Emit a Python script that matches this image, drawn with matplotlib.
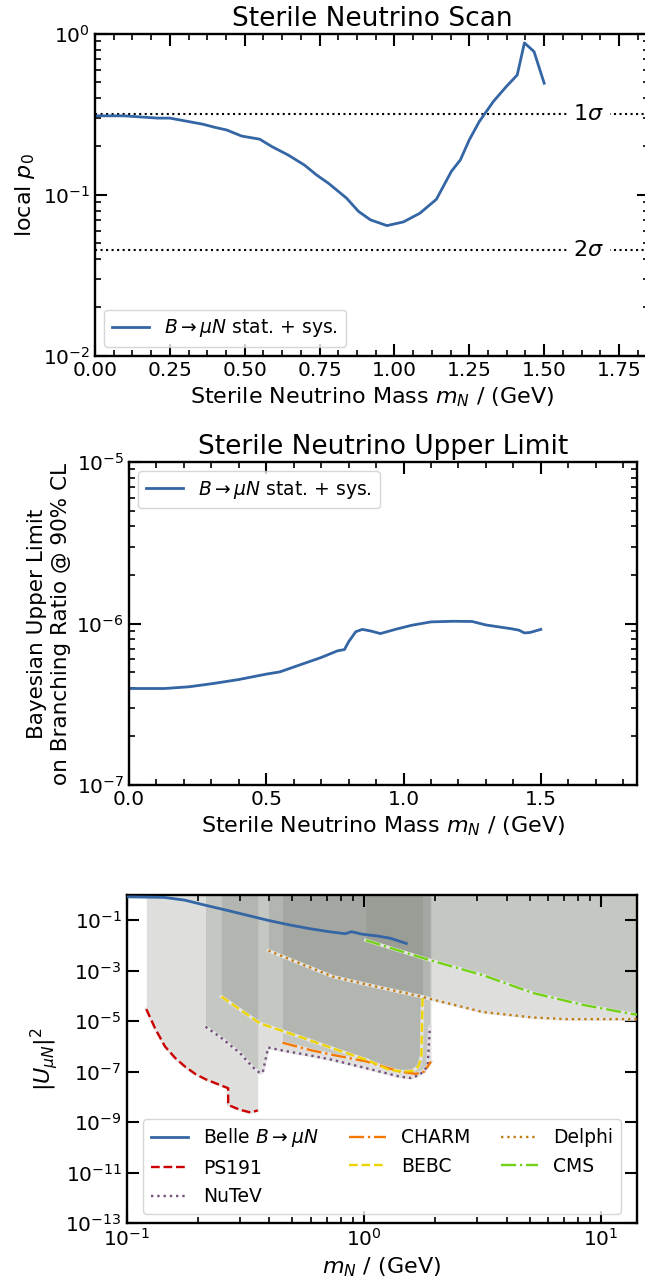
import numpy as np
import matplotlib
matplotlib.use("Agg")
import matplotlib.pyplot as plt
from matplotlib.ticker import (AutoMinorLocator, MultipleLocator, FixedLocator,
                               NullLocator, LogLocator, LogFormatterSciNotation)

# ---------------- data ----------------
# Panel 1: local p0 scan
scan_mass = [0.0, 0.096, 0.21, 0.25, 0.315, 0.36, 0.40, 0.44, 0.49, 0.55, 0.59, 0.645,
             0.70, 0.74, 0.78, 0.84, 0.88, 0.92, 0.975, 1.03, 1.085, 1.14, 1.19, 1.22,
             1.25, 1.283, 1.33, 1.373, 1.41, 1.434, 1.466, 1.50]
scan_p0 = [0.31, 0.31, 0.30, 0.30, 0.285, 0.275, 0.263, 0.253, 0.232, 0.222, 0.20, 0.177,
           0.153, 0.133, 0.118, 0.0955, 0.079, 0.070, 0.0645, 0.068, 0.077, 0.094, 0.14, 0.165,
           0.22, 0.285, 0.38, 0.47, 0.556, 0.88, 0.777, 0.494]
sigma_levels = [0.3173, 0.0455]
sigma_labels = [r"$1\sigma$", r"$2\sigma$"]

# Panel 2: Bayesian upper limit
ul_mass = [0.0, 0.13, 0.22, 0.31, 0.40, 0.50, 0.55, 0.61, 0.70, 0.76, 0.785, 0.80, 0.826,
           0.85, 0.88, 0.916, 0.97, 1.03, 1.10, 1.18, 1.25, 1.30, 1.39, 1.42, 1.44, 1.46, 1.50]
ul_br = [3.96e-7, 3.96e-7, 4.06e-7, 4.26e-7, 4.5e-7, 4.86e-7, 5.02e-7, 5.45e-7, 6.16e-7,
         6.78e-7, 6.9e-7, 7.7e-7, 8.9e-7, 9.2e-7, 9.0e-7, 8.67e-7, 9.2e-7, 9.76e-7, 1.024e-6,
         1.033e-6, 1.03e-6, 9.8e-7, 9.3e-7, 9.1e-7, 8.75e-7, 8.8e-7, 9.2e-7]

# Panel 3: |U_muN|^2 limits
belle_m = [0.1, 0.144, 0.176, 0.215, 0.263, 0.321, 0.392, 0.478, 0.584, 0.713, 0.836, 0.887,
           0.98, 1.15, 1.30, 1.51]
belle_u2 = [0.84, 0.80, 0.62, 0.39, 0.25, 0.158, 0.10, 0.067, 0.047, 0.035, 0.029, 0.035,
            0.028, 0.0234, 0.019, 0.012]
ps191_m = [0.121, 0.132, 0.145, 0.16, 0.176, 0.195, 0.215, 0.24, 0.268, 0.268, 0.29, 0.308,
           0.333, 0.357]
ps191_u2 = [3e-5, 5e-6, 1e-6, 3.5e-7, 1.6e-7, 8e-8, 5e-8, 3.3e-8, 2.2e-8, 4.8e-9, 3.5e-9,
            2.9e-9, 2.4e-9, 2.9e-9]
nutev_m = [0.215, 0.25, 0.30, 0.34, 0.365, 0.375, 0.385, 0.395, 0.457, 0.60, 0.74, 1.03,
           1.42, 1.58, 1.72, 1.86, 1.9]
nutev_u2 = [6e-6, 2.2e-6, 5.5e-7, 1.5e-7, 8.7e-8, 9.5e-8, 3e-7, 9e-7, 6.8e-7, 4.3e-7, 2.9e-7,
            1.35e-7, 6.3e-8, 5.6e-8, 7.4e-8, 1.6e-7, 6e-6]
charm_m = [0.454, 0.60, 0.74, 1.03, 1.42, 1.66, 1.80, 1.92]
charm_u2 = [1.4e-6, 7.0e-7, 4.6e-7, 2.5e-7, 1.0e-7, 8.1e-8, 1.0e-7, 2.5e-7]
bebc_m = [0.251, 0.365, 0.537, 0.74, 1.03, 1.28, 1.46, 1.60, 1.70, 1.75, 1.77]
bebc_u2 = [9.3e-5, 8.1e-6, 2.4e-6, 8.3e-7, 2.9e-7, 1.17e-7, 1.0e-7, 1.05e-7, 1.6e-7, 4e-7, 9.3e-5]
delphi_m = [0.396, 0.74, 1.00, 1.75, 3.18, 5.17, 7.13, 10.0, 14.5]
delphi_u2 = [6.2e-3, 5.8e-4, 3.0e-4, 9.3e-5, 2.3e-5, 1.4e-5, 1.2e-5, 1.2e-5, 1.2e-5]
cms_m = [1.02, 1.9, 3.18, 5.17, 8.4, 13.6, 14.5]
cms_u2 = [1.6e-2, 2.6e-3, 6.6e-4, 1.3e-4, 4.4e-5, 1.9e-5, 1.8e-5]

# ---------------- style ----------------
BLUE = "#3465a4"
plt.rcParams.update({
    "font.family": "DejaVu Sans",
    "axes.linewidth": 1.7,
    "xtick.direction": "in", "ytick.direction": "in",
    "xtick.top": True, "ytick.right": True,
    "xtick.major.size": 8.5, "ytick.major.size": 8.5,
    "xtick.minor.size": 4.5, "ytick.minor.size": 4.5,
    "xtick.major.width": 1.5, "ytick.major.width": 1.5,
    "xtick.minor.width": 1.2, "ytick.minor.width": 1.2,
    "xtick.labelsize": 14.5, "ytick.labelsize": 14.5,
    "axes.labelsize": 16, "axes.titlesize": 19,
    "legend.fontsize": 13.5,
})

fig = plt.figure(figsize=(6.45, 12.8), dpi=100)

# ---------------- panel 1 ----------------
ax1 = fig.add_axes([0.1473, 0.7219, 0.8589, 0.2516])
ax1.plot(scan_mass, scan_p0, color=BLUE, lw=2, label=r"$B \to \mu N$ stat. + sys.")
for lev, lab in zip(sigma_levels, sigma_labels):
    ax1.axhline(lev, color="black", ls=":", lw=1.5, zorder=1)
    ax1.text(1.649, lev, lab, fontsize=16, ha="center", va="center", zorder=3,
             bbox=dict(facecolor="white", edgecolor="none", pad=4))
ax1.set_yscale("log")
ax1.set_ylim(1e-2, 1)
ax1.set_xlim(0, 1.85)
ax1.xaxis.set_major_locator(MultipleLocator(0.25))
ax1.xaxis.set_minor_locator(AutoMinorLocator(4))
ax1.set_title("Sterile Neutrino Scan")
ax1.set_xlabel(r"Sterile Neutrino Mass $m_N$ / (GeV)")
ax1.set_ylabel(r"local $p_0$")
ax1.legend(loc="lower left")
ax1.tick_params(which="both", top=True, right=True)

# ---------------- panel 2 ----------------
ax2 = fig.add_axes([0.1997, 0.3867, 0.7879, 0.2523])
ax2.plot(ul_mass, ul_br, color=BLUE, lw=2, label=r"$B \to \mu N$ stat. + sys.")
ax2.set_yscale("log")
ax2.set_ylim(1e-7, 1e-5)
ax2.set_xlim(0, 1.85)
ax2.xaxis.set_major_locator(MultipleLocator(0.5))
ax2.xaxis.set_minor_locator(AutoMinorLocator(5))
ax2.set_title("Sterile Neutrino Upper Limit")
ax2.set_xlabel(r"Sterile Neutrino Mass $m_N$ / (GeV)")
ax2.set_ylabel("Bayesian Upper Limit\non Branching Ratio @ 90% CL", fontsize=15.5)
ax2.legend(loc="upper left")
ax2.tick_params(which="both", top=True, right=True)

# ---------------- panel 3 ----------------
ax3 = fig.add_axes([0.1964, 0.04453, 0.7912, 0.2563])
FILL = "#7d8078"
exps = [
    ("PS191", ps191_m, ps191_u2, "#cc0000", "--"),
    ("NuTeV", nutev_m, nutev_u2, "#75507b", ":"),
    ("CHARM", charm_m, charm_u2, "#f57900", "-."),
    ("BEBC", bebc_m, bebc_u2, "#edd400", "--"),
    ("Delphi", delphi_m, delphi_u2, "#c17d11", ":"),
    ("CMS", cms_m, cms_u2, "#73d216", "-."),
]
handles = {}
for name, m, u, c, ls in exps:
    ax3.fill_between(m, u, 1.0, color=FILL, alpha=0.25, lw=0, zorder=1)
for name, m, u, c, ls in exps:
    ax3.plot(m, u, color="#e4e4e4", lw=2.4, zorder=2)
    (h,) = ax3.plot(m, u, color=c, ls=ls, lw=1.7, zorder=3, label=name)
    handles[name] = h
(hb,) = ax3.plot(belle_m, belle_u2, color=BLUE, lw=2, zorder=4, label=r"Belle $B \to \mu N$")
order = [hb, handles["PS191"], handles["NuTeV"], handles["CHARM"], handles["BEBC"],
         handles["Delphi"], handles["CMS"]]
ax3.set_xscale("log")
ax3.set_yscale("log")
ax3.set_xlim(0.1, 14.2)
ax3.set_ylim(1e-13, 1)
ax3.yaxis.set_major_locator(FixedLocator([1e-13, 1e-11, 1e-9, 1e-7, 1e-5, 1e-3, 1e-1]))
ax3.yaxis.set_major_formatter(LogFormatterSciNotation())
ax3.yaxis.set_minor_locator(NullLocator())
ax3.xaxis.set_major_locator(LogLocator(base=10))
ax3.xaxis.set_minor_locator(LogLocator(base=10, subs=np.arange(2, 10)))
ax3.set_xlabel(r"$m_N$ / (GeV)")
ax3.set_ylabel(r"$|U_{\mu N}|^2$")
ax3.legend(handles=order, loc="lower center", ncol=3, columnspacing=1.6)
ax3.tick_params(which="both", top=True, right=True)

fig.savefig("out.png", dpi=100)
